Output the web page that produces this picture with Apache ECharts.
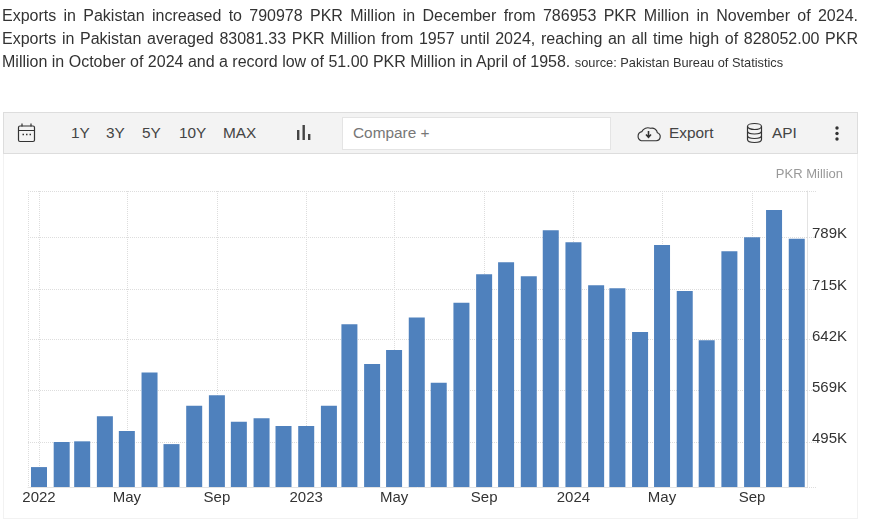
<!DOCTYPE html>
<html>
<head>
<meta charset="utf-8">
<script src="https://cdn.jsdelivr.net/npm/echarts@6/dist/echarts.min.js"></script>
<style>
  html, body { margin: 0; padding: 0; background: #fff; }
  body { width: 874px; height: 519px; position: relative; overflow: hidden; font-family: "Liberation Sans", Arial, sans-serif; color: #333; }
  #chart { position: absolute; left: 0; top: 0; width: 874px; height: 519px; }
  #intro { position: absolute; left: 2px; top: 4px; width: 856px; font-size: 16px; line-height: 23px; z-index: 2; }
  #intro div { white-space: nowrap; }
  #intro .full { text-align: justify; text-align-last: justify; }
  #intro small { font-size: 12.8px; }
  #panel { position: absolute; left: 3px; top: 153px; width: 855px; height: 366px; box-sizing: border-box; border: 1px solid #f2f2f2; border-top: 0; }
  #toolbar { position: absolute; left: 3px; top: 112px; width: 855px; height: 42px; box-sizing: border-box; background: #f3f3f3; border: 1px solid #ddd; z-index: 2; }
  #toolbar span { position: absolute; top: 11px; font-size: 15.4px; line-height: 18px; color: #444; }
  #toolbar svg { position: absolute; }
  #compare { position: absolute; left: 338px; top: 4px; width: 269px; height: 33px; box-sizing: border-box; background: #fff; border: 1px solid #e4e4e4; }
  #toolbar #compareText { left: 349px; color: #777; }
</style>
</head>
<body>
<div id="panel"></div>
<div id="chart"></div>
<div id="intro">
  <div class="full">Exports in Pakistan increased to 790978 PKR Million in December from 786953 PKR Million in November of 2024.</div>
  <div class="full">Exports in Pakistan averaged 83081.33 PKR Million from 1957 until 2024, reaching an all time high of 828052.00 PKR</div>
  <div>Million in October of 2024 and a record low of 51.00 PKR Million in April of 1958. <small>source: Pakistan Bureau of Statistics</small></div>
</div>
<div id="toolbar">
  <svg style="left:13px;top:9px" width="20" height="22" viewBox="0 0 20 22" fill="none" stroke="#333" stroke-width="1.2">
    <rect x="1.5" y="4" width="16" height="15.5" rx="1.5"/>
    <path d="M1.5 8.5h16M5 1.5v3M14 1.5v3"/>
    <path d="M5.5 12.5h1.5M9 12.5h1.5M12.5 12.5h1.5" stroke-width="1.6"/>
  </svg>
  <span style="left:67px">1Y</span>
  <span style="left:102px">3Y</span>
  <span style="left:138px">5Y</span>
  <span style="left:175px">10Y</span>
  <span style="left:219px">MAX</span>
  <svg style="left:292px;top:11px" width="16" height="17" viewBox="0 0 16 17" fill="#444">
    <rect x="1" y="6" width="2.4" height="10"/>
    <rect x="6.5" y="1" width="2.4" height="15"/>
    <rect x="12" y="10" width="2.4" height="6"/>
  </svg>
  <div id="compare"></div>
  <span id="compareText">Compare +</span>
  <svg style="left:631px;top:9px" width="27" height="22" viewBox="0 0 26 21" fill="none" stroke="#333" stroke-width="1.1">
    <path d="M6 18h14.5a4 4 0 0 0 1-7.8a5 5 0 0 0-6.5-4.2a6.5 6.5 0 0 0-8.5 3.2a4.6 4.6 0 0 0-.5 8.8z"/>
    <path d="M13 8.5v5.5M10.6 12l2.4 2.6l2.4-2.6" stroke-width="1.5"/>
  </svg>
  <span style="left:665px">Export</span>
  <svg style="left:741px;top:9px" width="19" height="22" viewBox="0 0 19 22" fill="none" stroke="#333" stroke-width="1.2">
    <ellipse cx="9.5" cy="4.5" rx="7" ry="3"/>
    <path d="M2.5 4.5v13c0 1.7 3 3 7 3s7-1.3 7-3v-13M2.5 9c0 1.7 3 3 7 3s7-1.3 7-3M2.5 13.5c0 1.7 3 3 7 3s7-1.3 7-3"/>
  </svg>
  <span style="left:768px">API</span>
  <svg style="left:830px;top:12px" width="6" height="17" viewBox="0 0 6 17" fill="#333">
    <circle cx="3" cy="3" r="1.7"/><circle cx="3" cy="8.5" r="1.7"/><circle cx="3" cy="14" r="1.7"/>
  </svg>
</div>
<script>
const months = [
  "2022-01-01", "2022-02-01", "2022-03-01", "2022-04-01", "2022-05-01", "2022-06-01",
  "2022-07-01", "2022-08-01", "2022-09-01", "2022-10-01", "2022-11-01", "2022-12-01",
  "2023-01-01", "2023-02-01", "2023-03-01", "2023-04-01", "2023-05-01", "2023-06-01",
  "2023-07-01", "2023-08-01", "2023-09-01", "2023-10-01", "2023-11-01", "2023-12-01",
  "2024-01-01", "2024-02-01", "2024-03-01", "2024-04-01", "2024-05-01", "2024-06-01",
  "2024-07-01", "2024-08-01", "2024-09-01", "2024-10-01", "2024-11-01",
];
const exportsPkr = [
  459000, 495000, 496000, 532000, 511000, 595000,
  492000, 547000, 562000, 524000, 529000, 518000,
  518000, 547000, 664000, 607000, 627000, 674000,
  580000, 695000, 736000, 753000, 733000, 799000,
  782000, 720000, 716000, 653000, 778000, 712000,
  641000, 769000, 789000, 828052, 786953,
];
const yTicks = [495000, 569000, 642000, 715000, 789000];
const xTicks = [
  "2022-01-01", "2022-05-01", "2022-09-01", "2023-01-01", "2023-05-01",
  "2023-09-01", "2024-01-01", "2024-05-01", "2024-09-01",
];
const monthNames = { 4: "May", 8: "Sep" };

const yMin = 430400;
const yMax = 855500;
const xMin = "2021-12-17";
const xMax = "2024-11-15";

// value axis over timestamps, so months keep their real lengths and ticks stay exact
const toTime = (d) => +new Date(d + "T00:00:00Z");
const xTickTimes = xTicks.map(toTime);

const chart = echarts.init(document.getElementById("chart"));
chart.setOption({
  animation: false,
  title: {
    text: "PKR Million",
    right: 26,
    top: 163,
    textStyle: { fontFamily: "Liberation Sans", fontSize: 13, fontWeight: "normal", color: "#999" },
  },
  grid: {
    left: 28,
    right: 67,
    top: 191,
    bottom: 32,
  },
  xAxis: {
    type: "value",
    min: toTime(xMin),
    max: toTime(xMax),
    axisLine: { show: true, lineStyle: { color: "#e3e3e3" } },
    // the extra tick at min gives the faint left edge of the plot
    axisTick: { show: false, customValues: [toTime(xMin), ...xTickTimes] },
    splitLine: { show: true, lineStyle: { color: "#ddd", type: "dotted" } },
    axisLabel: {
      customValues: xTickTimes,
      margin: 3,
      hideOverlap: false,
      color: "#333",
      fontFamily: "Liberation Sans",
      fontSize: 15,
      formatter(value) {
        const d = new Date(value);
        return monthNames[d.getUTCMonth()] || String(d.getUTCFullYear());
      },
    },
  },
  yAxis: {
    type: "value",
    position: "right",
    min: yMin,
    max: yMax,
    axisLine: { show: true, lineStyle: { color: "#e3e3e3" } },
    axisTick: {
      show: true,
      length: 10,
      customValues: [yMin, ...yTicks, yMax],
      lineStyle: { color: "#ddd", type: "dotted" },
    },
    splitLine: { show: true, lineStyle: { color: "#ddd", type: "dotted" } },
    axisLabel: {
      customValues: yTicks,
      margin: 5,
      // labels sit a little above their gridlines
      verticalAlign: "bottom",
      lineHeight: 6,
      color: "#333",
      fontFamily: "Liberation Sans",
      fontSize: 15,
      formatter: (v) => v / 1000 + "K",
    },
  },
  series: [
    {
      type: "bar",
      barWidth: 16,
      itemStyle: { color: "#4f81bd" },
      data: months.map((m, i) => [toTime(m), exportsPkr[i]]),
    },
  ],
});
</script>
</body>
</html>
